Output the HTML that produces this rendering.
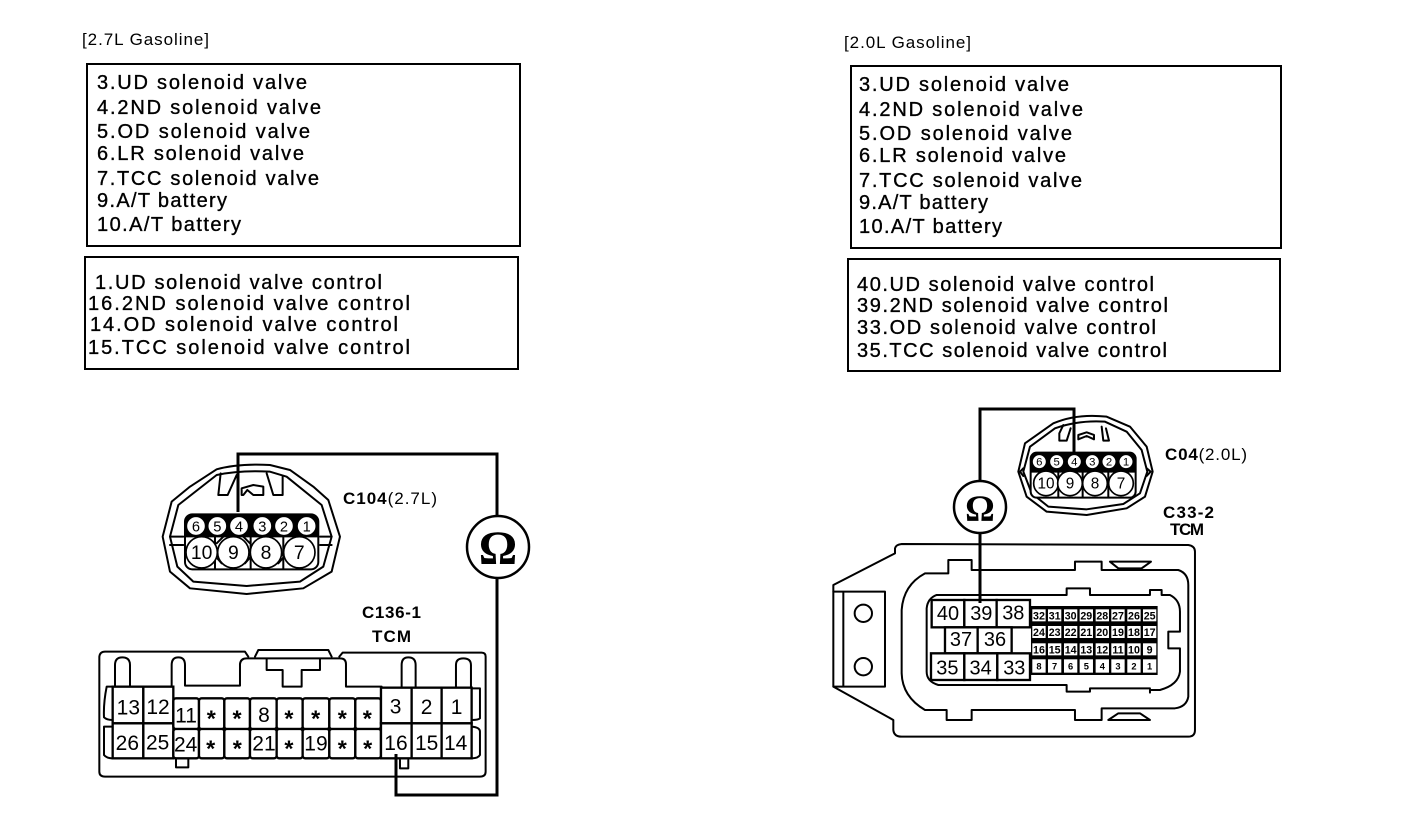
<!DOCTYPE html>
<html>
<head>
<meta charset="utf-8">
<style>
html,body{margin:0;padding:0;background:#fff;width:1408px;height:830px;overflow:hidden}
svg{display:block}
text{font-family:"Liberation Sans",sans-serif;fill:#000}
.t{font-size:20px;stroke:#000;stroke-width:.35px}
.h{font-size:17px}
.b{font-weight:bold;font-size:17px}
.l{fill:none;stroke:#000;stroke-width:6;stroke-linejoin:round;stroke-linecap:round}
.w{fill:none;stroke:#000;stroke-width:3}
.c{fill:#fff;stroke:#000;stroke-width:7}
.p{fill:#fff;stroke:#000;stroke-width:5}
.m{text-anchor:middle}
</style>
</head>
<body>
<svg width="1408" height="830" viewBox="0 0 1408 830" xmlns="http://www.w3.org/2000/svg">
<rect width="1408" height="830" fill="#fff"/>

<!-- Headers -->
<text class="h" x="82" y="45" textLength="127">[2.7L Gasoline]</text>
<text class="h" x="844" y="48" textLength="127">[2.0L Gasoline]</text>

<!-- Text boxes -->
<rect x="87" y="64" width="433" height="182" fill="none" stroke="#000" stroke-width="2"/>
<rect x="85" y="257" width="433" height="112" fill="none" stroke="#000" stroke-width="2"/>
<rect x="851" y="66" width="430" height="182" fill="none" stroke="#000" stroke-width="2"/>
<rect x="848" y="259" width="432" height="112" fill="none" stroke="#000" stroke-width="2"/>

<text class="t" x="97" y="89" textLength="210">3.UD solenoid valve</text>
<text class="t" x="97" y="114" textLength="224">4.2ND solenoid valve</text>
<text class="t" x="97" y="138" textLength="213">5.OD solenoid valve</text>
<text class="t" x="97" y="160" textLength="207">6.LR solenoid valve</text>
<text class="t" x="97" y="185" textLength="222">7.TCC solenoid valve</text>
<text class="t" x="97" y="207" textLength="130">9.A/T battery</text>
<text class="t" x="97" y="231" textLength="144">10.A/T battery</text>

<text class="t" x="95" y="289" textLength="287">1.UD solenoid valve control</text>
<text class="t" x="88" y="310" textLength="322">16.2ND solenoid valve control</text>
<text class="t" x="90" y="331" textLength="308">14.OD solenoid valve control</text>
<text class="t" x="88" y="354" textLength="322">15.TCC solenoid valve control</text>

<text class="t" x="859" y="91" textLength="210">3.UD solenoid valve</text>
<text class="t" x="859" y="116" textLength="224">4.2ND solenoid valve</text>
<text class="t" x="859" y="140" textLength="213">5.OD solenoid valve</text>
<text class="t" x="859" y="162" textLength="207">6.LR solenoid valve</text>
<text class="t" x="859" y="187" textLength="223">7.TCC solenoid valve</text>
<text class="t" x="859" y="209" textLength="129">9.A/T battery</text>
<text class="t" x="859" y="233" textLength="143">10.A/T battery</text>

<text class="t" x="857" y="291" textLength="297">40.UD solenoid valve control</text>
<text class="t" x="857" y="312" textLength="311">39.2ND solenoid valve control</text>
<text class="t" x="857" y="334" textLength="299">33.OD solenoid valve control</text>
<text class="t" x="857" y="357" textLength="310">35.TCC solenoid valve control</text>

<!-- Connector labels -->
<text x="343" y="504" textLength="94" style="font-size:17px"><tspan font-weight="bold">C104</tspan>(2.7L)</text>
<text class="b" x="362" y="618" textLength="59">C136-1</text>
<text class="b" x="372" y="642" textLength="39">TCM</text>
<text x="1165" y="460" textLength="82" style="font-size:17px"><tspan font-weight="bold">C04</tspan>(2.0L)</text>
<text class="b" x="1163" y="518" textLength="51">C33-2</text>
<text class="b" x="1170" y="535" textLength="34">TCM</text>

<!-- C104 connector -->
<g transform="translate(90,430) scale(.3333)">
  <path class="l" d="M218,320 L245,215 L300,170 L380,118 Q445,100 540,105 L600,120 L670,170 L715,210 L750,320 L725,425 L640,475 L470,492 L300,475 L240,425 Z"/>
  <path class="l" d="M240,320 L265,225 L380,135 Q450,120 540,125 L590,140 L695,225 L725,320 L700,410 L630,455 L470,468 L310,455 L262,410 Z"/>
  <path class="l" d="M240,320 H280 M240,345 H280 M690,320 H725 M690,345 H725"/>
  <path class="l" d="M392,130 L385,195 H413 L440,135 M530,130 L550,195 H578 V140"/>
  <path class="l" d="M455,195 V175 L490,165 L520,170 V195 H490 L472,180 L460,195 Z"/>
  <rect x="285" y="253" width="400" height="165" rx="22" fill="#fff" stroke="#000" stroke-width="6"/>
  <path d="M285,275 Q285,253 307,253 H663 Q685,253 685,275 V322 H285 Z" fill="#000"/>
  <path class="l" d="M375,320 V415 M482,320 V415 M580,320 V415 M360,400 L395,360 M395,400 L360,360 M465,400 L500,360 M500,400 L465,360 M565,400 L600,360 M600,400 L565,360 M380,340 L400,320 M480,340 L460,320"/>
  <circle class="p" cx="318" cy="288" r="29"/><circle class="p" cx="382" cy="288" r="29"/><circle class="p" cx="447" cy="288" r="29"/>
  <circle class="p" cx="517" cy="288" r="29"/><circle class="p" cx="582" cy="288" r="29"/><circle class="p" cx="650" cy="288" r="29"/>
  <circle class="p" cx="335" cy="367" r="47"/><circle class="p" cx="430" cy="367" r="47"/><circle class="p" cx="528" cy="367" r="47"/><circle class="p" cx="628" cy="367" r="47"/>
  <g class="m" style="font-size:44px">
    <text x="318" y="304">6</text><text x="382" y="304">5</text><text x="447" y="304">4</text><text x="517" y="304">3</text><text x="582" y="304">2</text><text x="650" y="304">1</text>
  </g>
  <g class="m" style="font-size:58px">
    <text x="335" y="387">10</text><text x="430" y="387">9</text><text x="528" y="387">8</text><text x="628" y="387">7</text>
  </g>
</g>

<!-- C136-1 connector -->
<g transform="translate(90,640) scale(.3333)">
  <path class="l" d="M28,395 V50 Q30,35 45,35 H465 L475,50 M495,50 L505,30 H715 L725,50 M748,50 L758,38 H1175 Q1187,38 1187,50 V395 Q1187,410 1170,410 H45 Q28,410 28,395"/>
  <path class="l" d="M75,138 V75 Q75,52 97,52 Q120,52 120,75 V138 M245,140 V75 Q245,52 265,52 Q285,52 285,75 V137 H450 V72 Q452,55 470,55 H750 Q768,55 768,72 V140 H875 M935,140 V75 Q935,52 955,52 Q977,52 977,75 V140 M1098,140 V75 Q1098,55 1120,55 Q1143,55 1143,75 V140"/>
  <path class="l" d="M530,57 V90 H578 V140 H635 V90 H690 V57"/>
  <path class="l" d="M68,140 H50 Q40,190 42,232 Q50,240 68,240 M68,260 H42 V345 Q50,355 68,355 M1145,145 H1170 V235 Q1165,240 1145,240 M1145,260 Q1170,262 1170,275 V345 Q1165,355 1145,355"/>
  <path class="l" d="M258,355 V382 H295 V355 M930,360 V385 H955 V360"/>
  <g>
    <rect class="c" x="68" y="140" width="92" height="110"/><rect class="c" x="160" y="140" width="90" height="110"/>
    <rect class="c" x="68" y="250" width="92" height="105"/><rect class="c" x="160" y="250" width="90" height="105"/>
    <rect class="c" x="250" y="175" width="77" height="92" rx="8"/><rect class="c" x="327" y="175" width="76" height="92" rx="8"/><rect class="c" x="403" y="175" width="77" height="92" rx="8"/><rect class="c" x="480" y="175" width="80" height="92" rx="8"/>
    <rect class="c" x="560" y="175" width="78" height="92" rx="8"/><rect class="c" x="638" y="175" width="80" height="92" rx="8"/><rect class="c" x="718" y="175" width="78" height="92" rx="8"/><rect class="c" x="796" y="175" width="77" height="92" rx="8"/>
    <rect class="c" x="250" y="267" width="77" height="88" rx="8"/><rect class="c" x="327" y="267" width="76" height="88" rx="8"/><rect class="c" x="403" y="267" width="77" height="88" rx="8"/><rect class="c" x="480" y="267" width="80" height="88" rx="8"/>
    <rect class="c" x="560" y="267" width="78" height="88" rx="8"/><rect class="c" x="638" y="267" width="80" height="88" rx="8"/><rect class="c" x="718" y="267" width="78" height="88" rx="8"/><rect class="c" x="796" y="267" width="77" height="88" rx="8"/>
    <rect class="c" x="873" y="143" width="92" height="107"/><rect class="c" x="965" y="143" width="90" height="107"/><rect class="c" x="1055" y="143" width="90" height="107"/>
    <rect class="c" x="873" y="250" width="92" height="105"/><rect class="c" x="965" y="250" width="90" height="105"/><rect class="c" x="1055" y="250" width="90" height="105"/>
  </g>
  <g class="m" style="font-size:63px">
    <text x="115" y="224">13</text><text x="204" y="222">12</text><text x="288" y="248">11</text><text x="522" y="246">8</text>
    <text x="917" y="220">3</text><text x="1010" y="222">2</text><text x="1100" y="222">1</text>
    <text x="112" y="330">26</text><text x="203" y="328">25</text><text x="287" y="334">24</text><text x="522" y="332">21</text><text x="678" y="332">19</text>
    <text x="918" y="330">16</text><text x="1010" y="330">15</text><text x="1097" y="330">14</text>
  </g>
  <g class="m" style="font-size:70px;font-weight:bold">
    <text x="364" y="260">*</text><text x="441" y="260">*</text><text x="597" y="260">*</text><text x="677" y="260">*</text><text x="757" y="260">*</text><text x="832" y="260">*</text>
    <text x="362" y="350">*</text><text x="442" y="350">*</text><text x="597" y="350">*</text><text x="757" y="350">*</text><text x="833" y="350">*</text>
  </g>
</g>

<!-- Left wiring -->
<path class="w" d="M238,512 V454 H497 V516"/>
<path class="w" d="M497,578 V795 H396 V754"/>
<circle cx="498" cy="547" r="31" fill="#fff" stroke="#000" stroke-width="2.5"/>
<text x="498" y="564" text-anchor="middle" style="font-family:'Liberation Serif',serif;font-weight:bold;font-size:48px">Ω</text>

<!-- C04 connector -->
<g transform="translate(940,400) scale(.3333)">
  <path class="l" d="M235,215 L255,130 L340,70 Q410,40 500,50 L570,80 L620,140 L638,215 L615,290 L560,325 L440,345 L320,335 L260,290 Z"/>
  <path class="l" d="M250,215 L270,140 L345,85 Q415,60 495,65 L560,95 L605,150 L622,215 L600,280 L550,312 L440,328 L325,320 L275,280 Z"/>
  <path class="l" d="M250,205 L240,215 L250,228 M620,205 L632,215 L620,228"/>
  <path class="l" d="M370,75 L358,100 V122 H380 L392,85 M485,80 L490,122 H507 L498,85"/>
  <path class="l" d="M415,118 V105 L440,97 L462,105 V118 L440,108 Z"/>
  <rect x="272" y="158" width="315" height="135" rx="18" fill="#fff" stroke="#000" stroke-width="6"/>
  <path d="M272,176 Q272,158 290,158 H569 Q587,158 587,176 V218 H272 Z" fill="#000"/>
  <path class="l" d="M355,215 V290 M428,215 V290 M505,215 V290"/>
  <circle class="p" cx="298" cy="185" r="22"/><circle class="p" cx="350" cy="185" r="22"/><circle class="p" cx="403" cy="185" r="22"/>
  <circle class="p" cx="457" cy="185" r="22"/><circle class="p" cx="507" cy="185" r="22"/><circle class="p" cx="558" cy="185" r="22"/>
  <circle class="p" cx="318" cy="250" r="37"/><circle class="p" cx="390" cy="250" r="37"/><circle class="p" cx="465" cy="250" r="37"/><circle class="p" cx="543" cy="250" r="37"/>
  <g class="m" style="font-size:34px">
    <text x="298" y="197">6</text><text x="350" y="197">5</text><text x="403" y="197">4</text><text x="457" y="197">3</text><text x="507" y="197">2</text><text x="558" y="197">1</text>
  </g>
  <g class="m" style="font-size:46px">
    <text x="318" y="266">10</text><text x="390" y="266">9</text><text x="465" y="266">8</text><text x="543" y="266">7</text>
  </g>
</g>

<!-- C33-2 connector -->
<g transform="translate(825,540) scale(.3333)">
  <path class="l" d="M25,135 L210,40 V25 Q212,14 230,12 L1090,15 Q1110,18 1110,35 V570 Q1110,590 1090,590 H230 Q207,590 205,570 V540 L25,440 Z"/>
  <path class="l" d="M25,155 H180 V440 H25 M55,155 V440"/>
  <circle class="l" cx="115" cy="220" r="26"/><circle class="l" cx="115" cy="380" r="26"/>
  <path class="l" d="M300,100 H370 V60 H440 V90 H750 V65 H830 V90 H1060 Q1090,100 1090,135 V470 Q1085,500 1050,505 H830 V540 H750 V510 H440 V540 H365 V510 H300 Q232,470 230,400 V210 Q235,135 300,100 Z"/>
  <path class="l" d="M335,165 H725 V145 H795 V165 H975 V150 H1010 V165 H1035 Q1065,180 1065,215 V275 H1030 V325 H1065 V395 Q1060,435 1005,450 H975 V458 M975,445 H795 V455 H725 V435 H340 Q305,425 305,395 V205 Q308,175 335,165"/>
  <path class="l" d="M855,65 H978 L950,85 H880 Z M850,540 H975 L945,520 H880 Z"/>
  <rect class="c" x="320" y="180" width="98" height="82"/><rect class="c" x="418" y="180" width="97" height="82"/><rect class="c" x="515" y="180" width="100" height="82"/>
  <rect class="c" x="360" y="262" width="98" height="78"/><rect class="c" x="458" y="262" width="102" height="78"/>
  <rect class="c" x="318" y="340" width="100" height="80"/><rect class="c" x="418" y="340" width="99" height="80"/><rect class="c" x="517" y="340" width="98" height="80"/>
  <g class="m" style="font-size:60px">
    <text x="369" y="240">40</text><text x="469" y="240">39</text><text x="565" y="238">38</text>
    <text x="408" y="318">37</text><text x="510" y="318">36</text>
    <text x="367" y="404">35</text><text x="467" y="404">34</text><text x="568" y="404">33</text>
  </g>
  <rect x="618" y="198" width="380" height="207" fill="#000"/>
  <g fill="#fff">
    <rect x="622" y="208" width="40" height="36"/><rect x="669" y="208" width="40" height="36"/><rect x="717" y="208" width="40" height="36"/><rect x="764" y="208" width="40" height="36"/><rect x="812" y="208" width="40" height="36"/><rect x="859" y="208" width="40" height="36"/><rect x="907" y="208" width="40" height="36"/><rect x="954" y="208" width="40" height="36"/>
    <rect x="622" y="258" width="40" height="36"/><rect x="669" y="258" width="40" height="36"/><rect x="717" y="258" width="40" height="36"/><rect x="764" y="258" width="40" height="36"/><rect x="812" y="258" width="40" height="36"/><rect x="859" y="258" width="40" height="36"/><rect x="907" y="258" width="40" height="36"/><rect x="954" y="258" width="40" height="36"/>
    <rect x="622" y="310" width="40" height="36"/><rect x="669" y="310" width="40" height="36"/><rect x="717" y="310" width="40" height="36"/><rect x="764" y="310" width="40" height="36"/><rect x="812" y="310" width="40" height="36"/><rect x="859" y="310" width="40" height="36"/><rect x="907" y="310" width="40" height="36"/><rect x="954" y="310" width="40" height="36"/>
    <rect x="622" y="358" width="40" height="40"/><rect x="669" y="358" width="40" height="40"/><rect x="717" y="358" width="40" height="40"/><rect x="764" y="358" width="40" height="40"/><rect x="812" y="358" width="40" height="40"/><rect x="859" y="358" width="40" height="40"/><rect x="907" y="358" width="40" height="40"/><rect x="954" y="358" width="40" height="40"/>
  </g>
  <g class="m" style="font-size:32px;font-weight:bold">
    <text x="642" y="238">32</text><text x="689" y="238">31</text><text x="737" y="238">30</text><text x="784" y="238">29</text><text x="832" y="238">28</text><text x="879" y="238">27</text><text x="927" y="238">26</text><text x="974" y="238">25</text>
    <text x="642" y="288">24</text><text x="689" y="288">23</text><text x="737" y="288">22</text><text x="784" y="288">21</text><text x="832" y="288">20</text><text x="879" y="288">19</text><text x="927" y="288">18</text><text x="974" y="288">17</text>
    <text x="642" y="340">16</text><text x="689" y="340">15</text><text x="737" y="340">14</text><text x="784" y="340">13</text><text x="832" y="340">12</text><text x="879" y="340">11</text><text x="927" y="340">10</text><text x="974" y="340">9</text>
  </g>
  <g class="m" style="font-size:28px;font-weight:bold">
    <text x="642" y="388">8</text><text x="689" y="388">7</text><text x="737" y="388">6</text><text x="784" y="388">5</text><text x="832" y="388">4</text><text x="879" y="388">3</text><text x="927" y="388">2</text><text x="974" y="388">1</text>
  </g>
</g>

<!-- Right wiring -->
<path class="w" d="M1074,452 V409 H980 V482"/>
<path class="w" d="M980,532 V603"/>
<circle cx="980" cy="507" r="26" fill="#fff" stroke="#000" stroke-width="2.5"/>
<text x="980" y="521" text-anchor="middle" style="font-family:'Liberation Serif',serif;font-weight:bold;font-size:37px">Ω</text>
</svg>
</body>
</html>
